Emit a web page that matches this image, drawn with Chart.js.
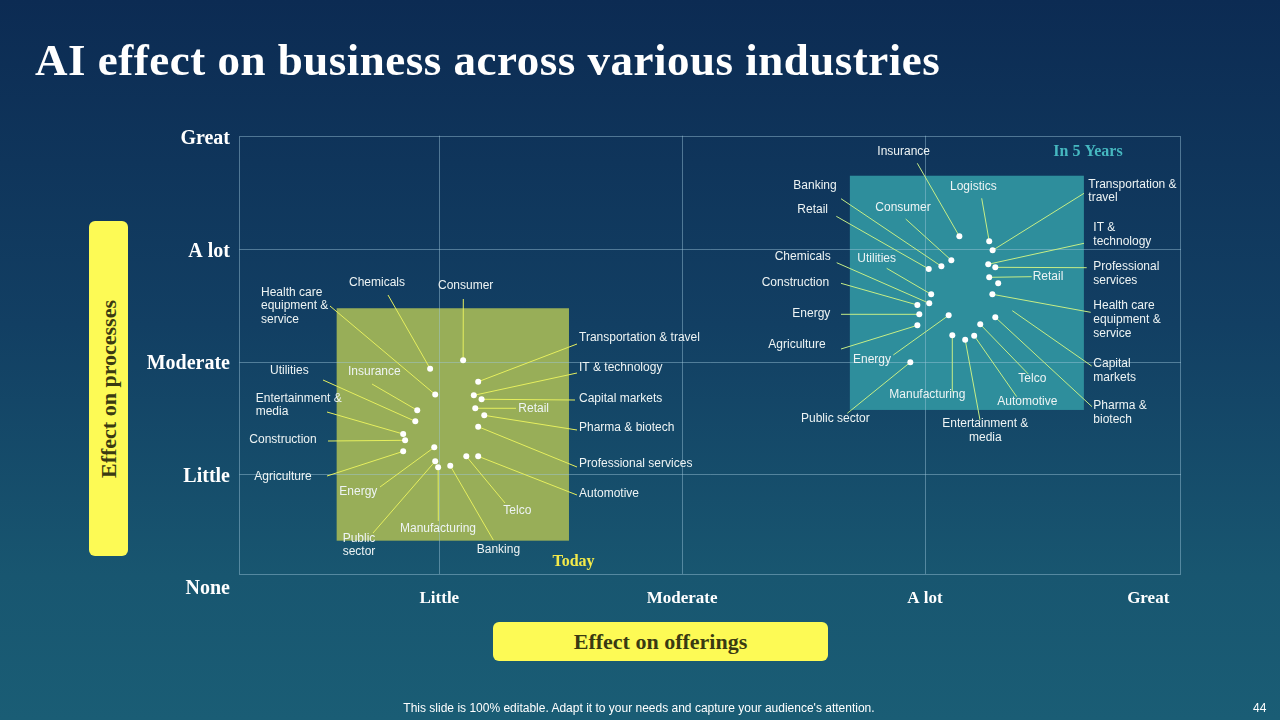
<!DOCTYPE html>
<html>
<head>
<meta charset="utf-8">
<script src="https://cdn.jsdelivr.net/npm/chart.js@4.4.1/dist/chart.umd.min.js"></script>
<style>
  body { margin: 0; overflow: hidden; }
  #slide {
    position: relative; width: 1280px; height: 720px; overflow: hidden;
    background: linear-gradient(180deg, #0c2b53 0%, #123f63 45%, #185670 80%, #1a5d75 100%);
    font-family: "Liberation Sans", Arial, sans-serif;
  }
  #chart { position: absolute; left: 0; top: 0; }
  .title {
    position: absolute; left: 35px; top: 38px; margin: 0; letter-spacing: 0.5px;
    font: bold 45px/45px "Liberation Serif", serif; color: #ffffff; white-space: nowrap;
  }
  .axisbox {
    position: absolute; background: #fdfa55; border-radius: 6px;
    color: #3a3a12; font: bold 22px "Liberation Serif", serif;
    display: flex; align-items: center; justify-content: center; white-space: nowrap;
  }
  .ybox { left: 89px; top: 221px; width: 39px; height: 335px; }
  .ybox span { transform: rotate(-90deg); display: block; }
  .xbox { left: 493px; top: 622px; width: 335px; height: 39px; }
  .footer {
    position: absolute; left: 0; width: 1278px; top: 701px; text-align: center;
    font-size: 12px; color: #ffffff;
  }
  .pagenum { position: absolute; left: 1253px; top: 701px; font-size: 12px; color: #ffffff; }
</style>
</head>
<body>
<div id="slide">
  <canvas id="chart" width="1280" height="720"></canvas>
  <h1 class="title">AI effect on business across various industries</h1>
  <div class="axisbox ybox"><span>Effect on processes</span></div>
  <div class="axisbox xbox">Effect on offerings</div>
  <div class="footer">This slide is 100% editable. Adapt it to your needs and capture your audience's attention.</div>
  <div class="pagenum">44</div>
</div>
<script>
// axis scale: 0 none .. 4 great
let xTickLabels = ['Little', 'Moderate', 'A lot', 'Great'];
let xTickValues = [1, 2, 3, 3.92];
let yTickLabels = ['None', 'Little', 'Moderate', 'A lot', 'Great'];

// today
let todayNames = ['Consumer', 'Chemicals', 'Health care\nequipment &\nservice', 'Insurance', 'Utilities',
  'Entertainment &\nmedia', 'Construction', 'Agriculture', 'Energy', 'Public\nsector', 'Manufacturing',
  'Banking', 'Telco', 'Automotive', 'Transportation & travel', 'IT & technology', 'Capital markets',
  'Retail', 'Pharma & biotech', 'Professional services'];
let todayOfferings = [1.098, 0.962, 0.983, 0.909, 0.901, 0.851, 0.859, 0.851, 0.979, 0.983, 0.995,
  1.045, 1.111, 1.160, 1.160, 1.142, 1.174, 1.148, 1.185, 1.160];
let todayProcesses = [2.013, 1.939, 1.709, 1.569, 1.471, 1.358, 1.302, 1.204, 1.240, 1.116, 1.062,
  1.076, 1.160, 1.160, 1.823, 1.702, 1.667, 1.587, 1.524, 1.423];

// in 5 years
let fiveNames = ['Insurance', 'Logistics', 'Transportation &\ntravel', 'IT &\ntechnology', 'Professional\nservices',
  'Retail', 'Capital\nmarkets', 'Health care\nequipment &\nservice', 'Pharma &\nbiotech', 'Telco', 'Automotive',
  'Entertainment &\nmedia', 'Manufacturing', 'Energy', 'Public sector', 'Consumer', 'Banking', 'Retail',
  'Utilities', 'Chemicals', 'Construction', 'Energy', 'Agriculture'];
let fiveOfferings = [3.142, 3.265, 3.279, 3.261, 3.290, 3.265, 3.302, 3.278, 3.290, 3.228, 3.203,
  3.166, 3.113, 3.098, 2.940, 3.109, 3.068, 3.016, 3.026, 3.018, 2.969, 2.977, 2.969];
let fiveProcesses = [3.116, 3.071, 2.991, 2.867, 2.840, 2.751, 2.698, 2.600, 2.396, 2.333, 2.232,
  2.196, 2.236, 2.413, 1.996, 2.902, 2.849, 2.825, 2.600, 2.520, 2.505, 2.422, 2.324];

// label placement (pixels): text pos, leader anchor
let todayLabelPos = [
  {x: 438, y: 285.7, ax: 463.3, ay: 299},
  {x: 349, y: 282.7, ax: 388, ay: 295},
  {x: 261, y: 292.3, ax: 330, ay: 306},
  {x: 348, y: 371.3, ax: 372, ay: 384},
  {x: 270, y: 371, ax: 323, ay: 380},
  {x: 255.7, y: 398.3, ax: 327, ay: 412},
  {x: 249.3, y: 440, ax: 328, ay: 441},
  {x: 254.3, y: 476.7, ax: 327, ay: 476},
  {x: 339.3, y: 491.7, ax: 380, ay: 487},
  {x: 359, y: 538.3, ax: 373, ay: 533, align: 'center'},
  {x: 400, y: 528.3, ax: 438.3, ay: 521},
  {x: 476.7, y: 549.3, ax: 493.3, ay: 540},
  {x: 503.3, y: 510.7, ax: 505, ay: 503},
  {x: 579, y: 493.3, ax: 577, ay: 495},
  {x: 579, y: 337.3, ax: 577, ay: 344},
  {x: 579, y: 367.7, ax: 577, ay: 373},
  {x: 579, y: 399, ax: 575, ay: 400},
  {x: 518.3, y: 408.3, ax: 516, ay: 408.3},
  {x: 579, y: 427.7, ax: 577, ay: 430},
  {x: 579, y: 463.7, ax: 577, ay: 467}
];
let fiveLabelPos = [
  {x: 877.3, y: 152, ax: 917.3, ay: 163.3},
  {x: 950, y: 186.7, ax: 981.7, ay: 198.3},
  {x: 1088.3, y: 184.3, ax: 1084, ay: 193.3},
  {x: 1093.3, y: 227.7, ax: 1084, ay: 243.3},
  {x: 1093.3, y: 266.7, ax: 1086.7, ay: 267.7},
  {x: 1032.7, y: 276.7, ax: 1031.7, ay: 276.7},
  {x: 1093.3, y: 364, ax: 1091.7, ay: 366, ex: 1012.3, ey: 310.7},
  {x: 1093.3, y: 305.7, ax: 1090.7, ay: 312.3},
  {x: 1093.3, y: 406, ax: 1092, ay: 406.7},
  {x: 1018.3, y: 378.7, ax: 1028.3, ay: 374},
  {x: 997.3, y: 401.7, ax: 1016.7, ay: 396.7},
  {x: 985.3, y: 424, ax: 980, ay: 420, align: 'center'},
  {x: 889.3, y: 395, ax: 952.3, ay: 391.7},
  {x: 853, y: 360, ax: 893.3, ay: 355},
  {x: 801, y: 418.3, ax: 847.3, ay: 413.3},
  {x: 875.3, y: 208, ax: 905.7, ay: 219},
  {x: 793.3, y: 185.7, ax: 841, ay: 198.7},
  {x: 797.3, y: 210, ax: 836.3, ay: 216.3},
  {x: 857.3, y: 258.7, ax: 886.7, ay: 268.3},
  {x: 774.7, y: 256.7, ax: 836.7, ay: 262.7},
  {x: 761.7, y: 282.7, ax: 841, ay: 283.3},
  {x: 792.3, y: 314, ax: 841, ay: 314.3},
  {x: 768.3, y: 344.7, ax: 841, ay: 349}
];

// plot frame and shaded zones, in axis units
let frame = {x0: 0.176, x1: 4.055, y0: 0.114, y1: 4.01};
let zones = [
  {x0: 0.577, x1: 1.534, y0: 0.410, y1: 2.476, color: '#98ae58', title: 'Today', tx: 573.5, ty: 562, tcolor: '#f3ea4a'},
  {x0: 2.691, x1: 3.655, y0: 1.572, y1: 3.654, color: '#2e8e9c', title: 'In 5 Years', tx: 1088, ty: 152, tcolor: '#46b8c0'}
];

let decor = {
  id: 'decor',
  beforeDatasetsDraw(chart) {
    let ctx = chart.ctx;
    let sx = chart.scales.x, sy = chart.scales.y;
    let px = v => sx.getPixelForValue(v);
    let py = v => sy.getPixelForValue(v);
    ctx.save();
    zones.forEach(z => {
      ctx.fillStyle = z.color;
      ctx.fillRect(px(z.x0), py(z.y1), px(z.x1) - px(z.x0), py(z.y0) - py(z.y1));
    });
    ctx.strokeStyle = 'rgba(160,200,220,0.45)';
    ctx.lineWidth = 1;
    [1, 2, 3].forEach(v => {
      ctx.beginPath();
      ctx.moveTo(Math.round(px(v)) + 0.5, py(frame.y1));
      ctx.lineTo(Math.round(px(v)) + 0.5, py(frame.y0));
      ctx.moveTo(px(frame.x0), Math.round(py(v)) + 0.5);
      ctx.lineTo(px(frame.x1), Math.round(py(v)) + 0.5);
      ctx.stroke();
    });
    ctx.strokeRect(Math.round(px(frame.x0)) + 0.5, Math.round(py(frame.y1)) + 0.5,
      Math.round(px(frame.x1) - px(frame.x0)) - 1, Math.round(py(frame.y0) - py(frame.y1)));

    // leader lines
    chart.data.datasets.forEach((ds, di) => {
      let pos = di === 0 ? todayLabelPos : fiveLabelPos;
      ctx.strokeStyle = di === 0 ? '#e6ef5e' : '#c6ee86';
      ctx.lineWidth = 1;
      ds.data.forEach((d, i) => {
        let p = pos[i];
        let ex = p.ex !== undefined ? p.ex : px(d.x);
        let ey = p.ey !== undefined ? p.ey : py(d.y);
        ctx.beginPath();
        ctx.moveTo(p.ax, p.ay);
        ctx.lineTo(ex, ey);
        ctx.stroke();
      });
    });
    ctx.restore();
  },
  afterDatasetsDraw(chart) {
    let ctx = chart.ctx;
    ctx.save();
    ctx.textBaseline = 'middle';
    ctx.font = '12px "Liberation Sans", Arial, sans-serif';
    ctx.fillStyle = '#eef4f4';
    chart.data.datasets.forEach((ds, di) => {
      let pos = di === 0 ? todayLabelPos : fiveLabelPos;
      ds.names.forEach((name, i) => {
        let p = pos[i];
        ctx.textAlign = p.align || 'left';
        name.split('\n').forEach((line, k) => ctx.fillText(line, p.x, p.y + k * 13.8));
      });
    });
    ctx.font = 'bold 16px "Liberation Serif", serif';
    ctx.textAlign = 'center';
    zones.forEach(z => {
      ctx.fillStyle = z.tcolor;
      ctx.fillText(z.title, z.tx, z.ty);
    });
    ctx.restore();
  }
};

let ctx = document.getElementById('chart').getContext('2d');

let chart = new Chart(ctx, {
  type: 'scatter',
  data: {
    datasets: [{
      label: 'Today',
      names: todayNames,
      data: todayOfferings.map((v, i) => ({x: v, y: todayProcesses[i]})),
      pointRadius: 3,
      pointHoverRadius: 4,
      pointBackgroundColor: '#ffffff',
      pointBorderWidth: 0
    }, {
      label: 'In 5 Years',
      names: fiveNames,
      data: fiveOfferings.map((v, i) => ({x: v, y: fiveProcesses[i]})),
      pointRadius: 3,
      pointHoverRadius: 4,
      pointBackgroundColor: '#ffffff',
      pointBorderWidth: 0
    }]
  },
  options: {
    responsive: false,
    animation: false,
    devicePixelRatio: 1,
    layout: {
      padding: {left: 139.3, right: 99, top: 136.8, bottom: 103.2}
    },
    plugins: {
      legend: {display: false},
      tooltip: {
        callbacks: {
          label: c => c.dataset.names[c.dataIndex].replace(/\n/g, ' ')
        }
      }
    },
    scales: {
      x: {
        type: 'linear',
        min: frame.x0,
        max: frame.x1,
        afterBuildTicks: s => { s.ticks = xTickValues.map(v => ({value: v})); },
        afterFit: s => { s.height = 30; },
        grid: {display: false, drawTicks: false},
        border: {display: false},
        ticks: {
          padding: 1.5,
          color: '#ffffff',
          font: {family: '"Liberation Serif", serif', size: 17, weight: 'bold'},
          callback: (v, i) => xTickLabels[i]
        }
      },
      y: {
        type: 'linear',
        min: 0,
        max: 4,
        afterBuildTicks: s => { s.ticks = yTickLabels.map((t, i) => ({value: i})); },
        afterFit: s => { s.width = 100; },
        grid: {display: false, drawTicks: false},
        border: {display: false},
        ticks: {
          padding: 9.3,
          labelOffset: 2.5,
          color: '#ffffff',
          font: {family: '"Liberation Serif", serif', size: 20, weight: 'bold'},
          callback: (v, i) => yTickLabels[i]
        }
      }
    }
  },
  plugins: [decor]
});
</script>
</body>
</html>
